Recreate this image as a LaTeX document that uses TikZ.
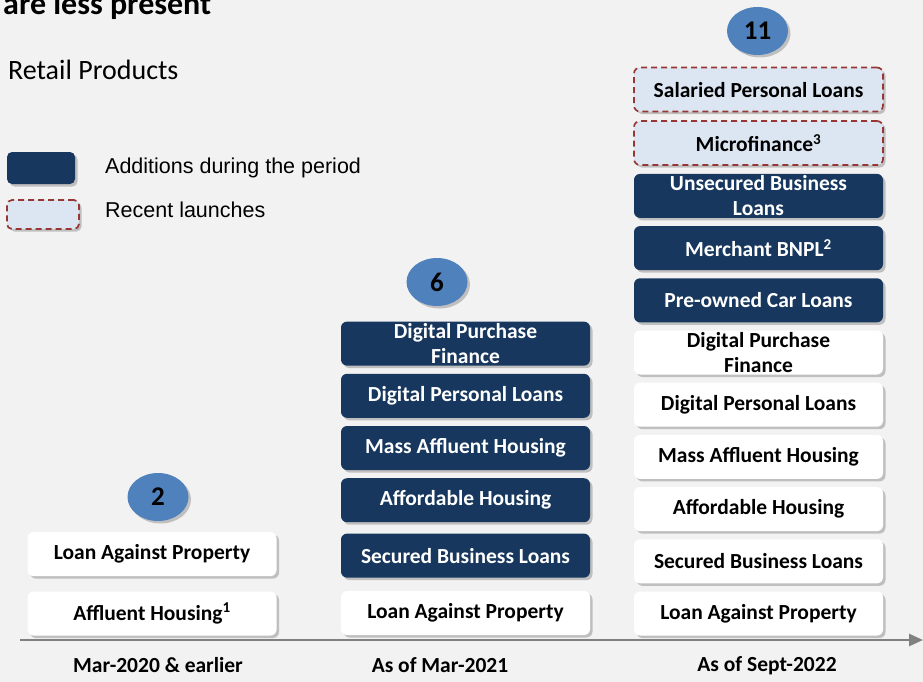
\documentclass[tikz,border=0pt]{standalone}
\usepackage{fontspec}
\setmainfont{Carlito}
\newfontfamily\arialfont{Liberation Sans}
\usetikzlibrary{shapes.geometric,arrows.meta,positioning,shadows}
\definecolor{navyblue}{RGB}{23,55,94}
\definecolor{steelblue}{RGB}{79,129,189}
\definecolor{paleblue}{RGB}{220,230,242}
\definecolor{dashred}{RGB}{150,55,53}
\definecolor{bggray}{RGB}{242,242,242}
\definecolor{axisgray}{RGB}{128,128,128}

\begin{document}
\begin{tikzpicture}[
  x=1pt,y=-1pt,
  node distance=7.8pt,
  shade/.style={drop shadow={shadow xshift=2.5pt,shadow yshift=-2.5pt,opacity=0.3,fill=black!70}},
  box/.style={rectangle,rounded corners=6pt,minimum width=249pt,minimum height=44pt,
    font=\fontsize{21.5}{25}\selectfont\bfseries,align=center,inner sep=0pt,shade},
  plain/.style={fill=white,text=black},
  added/.style={fill=navyblue,text=white},
  recent/.style={fill=paleblue,text=black,draw=dashred,dash pattern=on 6pt off 4pt,line width=1.7pt},
  count/.style={ellipse,fill=steelblue,minimum width=61pt,minimum height=48pt,inner sep=0pt,
    font=\fontsize{27}{27}\selectfont\bfseries,shade},
  period/.style={font=\fontsize{21.5}{22}\selectfont\bfseries,inner sep=0pt},
  legend/.style={font=\arialfont\fontsize{21.5}{24}\selectfont,anchor=west,inner sep=0pt},
  axis/.style={-{Triangle[length=14pt,width=12pt]},axisgray,line width=2.5pt},
]
  \useasboundingbox (0,0) rectangle (923,682);
  \clip (0,0) rectangle (923,682);
  \fill[bggray] (0,0) rectangle (923,682);

  % heading and legend
  \node[anchor=base west,font=\fontsize{32}{32}\selectfont\bfseries,inner sep=0pt] (title) at (3,15) {are less present};
  \node[anchor=west,font=\fontsize{28}{28}\selectfont,inner sep=0pt] (retail) at (8,70) {Retail Products};
  \node[added,rounded corners=5pt,minimum width=68pt,minimum height=32pt,shade] (keyadd) at (41,168) {};
  \node[recent,rounded corners=5pt,minimum width=72pt,minimum height=29pt,shade] (keyrecent) at (43,214.5) {};
  \node[legend] (keyaddtxt) at (105,167.5) {Additions during the period};
  \node[legend] (keyrecenttxt) at (105,210) {Recent launches};

  % Mar-2020
  \node[box,plain] (aff) at (152,613.5) {Affluent Housing\textsuperscript{1}};
  \node[box,plain,above=15pt of aff] (lapA) {Loan Against Property};
  \node[count] (cntA) at (158,497) {2};

  % Mar-2021
  \node[box,plain] (lapB) at (465.5,613) {Loan Against Property};
  \node[box,added,above=13pt of lapB] (sblB) {Secured Business Loans};
  \node[box,added,above=11pt of sblB] (ahB) {Affordable Housing};
  \node[box,added,above=of ahB] (mahB) {Mass Affluent Housing};
  \node[box,added,above=of mahB] (dplB) {Digital Personal Loans};
  \node[box,added,above=of dplB] (dpfB) {Digital Purchase\\Finance};
  \node[count] (cntB) at (437,282) {6};

  % Sept-2022
  \node[box,plain] (lapC) at (758.5,613.5) {Loan Against Property};
  \node[box,plain,above=of lapC] (sblC) {Secured Business Loans};
  \node[box,plain,above=of sblC] (ahC) {Affordable Housing};
  \node[box,plain,above=of ahC] (mahC) {Mass Affluent Housing};
  \node[box,plain,above=of mahC] (dplC) {Digital Personal Loans};
  \node[box,plain,above=of dplC] (dpfC) {Digital Purchase\\Finance};
  \node[box,added,above=of dpfC] (carC) {Pre-owned Car Loans};
  \node[box,added,above=of carC] (bnplC) {Merchant BNPL\textsuperscript{2}};
  \node[box,added,above=of bnplC] (ublC) {Unsecured Business\\Loans};
  \node[box,recent,above=of ublC] (mfC) {Microfinance\textsuperscript{3}};
  \node[box,recent,above=of mfC] (splC) {Salaried Personal Loans};
  \node[count] (cntC) at (757.5,31) {11};

  % time axis
  \coordinate (axstart) at (20,640);
  \coordinate (axend) at (923,640);
  \draw[axis] (axstart) -- (axend);
  \node[period] (perA) at (158,665) {Mar-2020 \& earlier};
  \node[period] (perB) at (440,665) {As of Mar-2021};
  \node[period] (perC) at (767,666) {As of Sept-2022};
\end{tikzpicture}
\end{document}
